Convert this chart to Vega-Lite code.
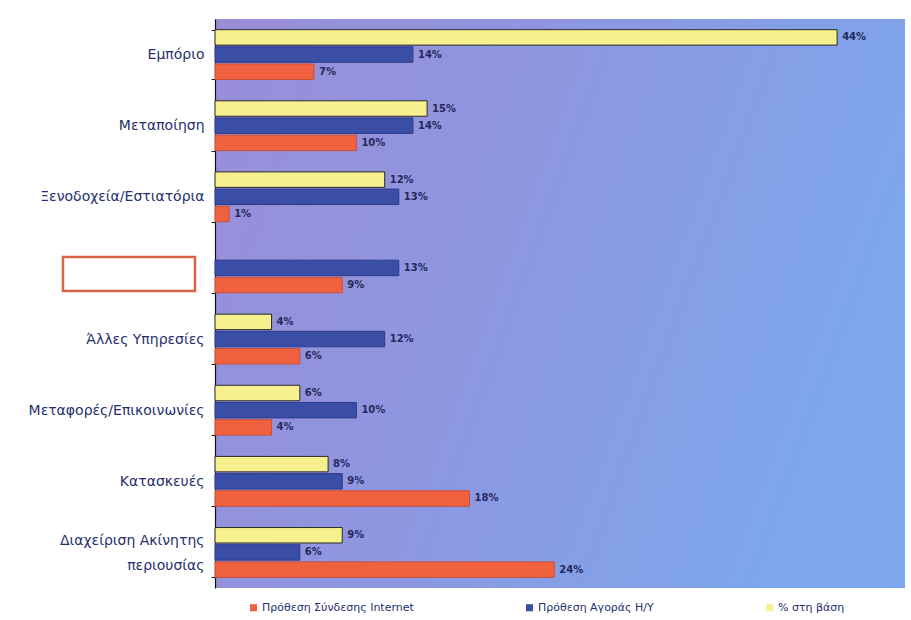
{
  "$schema": "https://vega.github.io/schema/vega-lite/v6.json",
  "autosize": {"type": "none"},
  "width": 690,
  "height": 569,
  "padding": {"left": 215, "top": 19, "right": 6, "bottom": 32},
  "background": "#ffffff",
  "view": {
    "fill": {
      "gradient": "linear",
      "x1": 0, "y1": 0, "x2": 1, "y2": 0.3,
      "stops": [
        {"offset": 0, "color": "#9a8dd8"},
        {"offset": 0.45, "color": "#8e96df"},
        {"offset": 1, "color": "#7ea6ec"}
      ]
    },
    "stroke": null
  },
  "config": {
    "font": "DejaVu Sans",
    "axis": {"labelFont": "DejaVu Sans"}
  },
  "data": {
    "values": [
      {"cat": "Εμπόριο", "series": "% στη βάση", "value": 0.44},
      {"cat": "Εμπόριο", "series": "Πρόθεση Αγοράς Η/Υ", "value": 0.14},
      {"cat": "Εμπόριο", "series": "Πρόθεση Σύνδεσης Internet", "value": 0.07},
      {"cat": "Μεταποίηση", "series": "% στη βάση", "value": 0.15},
      {"cat": "Μεταποίηση", "series": "Πρόθεση Αγοράς Η/Υ", "value": 0.14},
      {"cat": "Μεταποίηση", "series": "Πρόθεση Σύνδεσης Internet", "value": 0.10},
      {"cat": "Ξενοδοχεία/Εστιατόρια", "series": "% στη βάση", "value": 0.12},
      {"cat": "Ξενοδοχεία/Εστιατόρια", "series": "Πρόθεση Αγοράς Η/Υ", "value": 0.13},
      {"cat": "Ξενοδοχεία/Εστιατόρια", "series": "Πρόθεση Σύνδεσης Internet", "value": 0.01},
      {"cat": " ", "series": "Πρόθεση Αγοράς Η/Υ", "value": 0.13},
      {"cat": " ", "series": "Πρόθεση Σύνδεσης Internet", "value": 0.09},
      {"cat": "Άλλες Υπηρεσίες", "series": "% στη βάση", "value": 0.04},
      {"cat": "Άλλες Υπηρεσίες", "series": "Πρόθεση Αγοράς Η/Υ", "value": 0.12},
      {"cat": "Άλλες Υπηρεσίες", "series": "Πρόθεση Σύνδεσης Internet", "value": 0.06},
      {"cat": "Μεταφορές/Επικοινωνίες", "series": "% στη βάση", "value": 0.06},
      {"cat": "Μεταφορές/Επικοινωνίες", "series": "Πρόθεση Αγοράς Η/Υ", "value": 0.10},
      {"cat": "Μεταφορές/Επικοινωνίες", "series": "Πρόθεση Σύνδεσης Internet", "value": 0.04},
      {"cat": "Κατασκευές", "series": "% στη βάση", "value": 0.08},
      {"cat": "Κατασκευές", "series": "Πρόθεση Αγοράς Η/Υ", "value": 0.09},
      {"cat": "Κατασκευές", "series": "Πρόθεση Σύνδεσης Internet", "value": 0.18},
      {"cat": "Διαχείριση Ακίνητης|περιουσίας", "series": "% στη βάση", "value": 0.09},
      {"cat": "Διαχείριση Ακίνητης|περιουσίας", "series": "Πρόθεση Αγοράς Η/Υ", "value": 0.06},
      {"cat": "Διαχείριση Ακίνητης|περιουσίας", "series": "Πρόθεση Σύνδεσης Internet", "value": 0.24}
    ]
  },
  "encoding": {
    "y": {
      "field": "cat",
      "type": "nominal",
      "sort": ["Εμπόριο", "Μεταποίηση", "Ξενοδοχεία/Εστιατόρια", " ", "Άλλες Υπηρεσίες", "Μεταφορές/Επικοινωνίες", "Κατασκευές", "Διαχείριση Ακίνητης|περιουσίας"],
      "scale": {"paddingInner": 0.3, "paddingOuter": 0.15},
      "axis": {
        "title": null,
        "domainColor": "#111111",
        "domainWidth": 1.2,
        "tickColor": "#222222",
        "tickSize": 4,
        "tickBand": "extent",
        "labelFontSize": 14,
        "labelColor": "#26306e",
        "labelPadding": 7,
        "labelLimit": 260,
        "labelBaseline": "middle",
        "labelLineHeight": 25,
        "labelOffset": {
          "condition": {"test": "isValid(datum.value) && indexof(datum.value, '|') >= 0", "value": -12},
          "value": 0
        },
        "labelExpr": "isValid(datum.value) ? split(datum.value, '|') : ''"
      }
    },
    "yOffset": {
      "field": "series",
      "type": "nominal",
      "sort": ["% στη βάση", "Πρόθεση Αγοράς Η/Υ", "Πρόθεση Σύνδεσης Internet"],
      "scale": {"paddingInner": 0.1}
    },
    "x": {
      "field": "value",
      "type": "quantitative",
      "scale": {"domain": [0, 0.488], "nice": false},
      "axis": null
    }
  },
  "layer": [
    {
      "mark": {"type": "bar", "strokeWidth": 1},
      "encoding": {
        "color": {
          "field": "series",
          "type": "nominal",
          "sort": ["Πρόθεση Σύνδεσης Internet", "Πρόθεση Αγοράς Η/Υ", "% στη βάση"],
          "scale": {
            "domain": ["Πρόθεση Σύνδεσης Internet", "Πρόθεση Αγοράς Η/Υ", "% στη βάση"],
            "range": ["#f0623f", "#3a4ea6", "#f6f08e"]
          },
          "legend": {
            "title": null,
            "orient": "none",
            "legendX": 33,
            "legendY": 583,
            "direction": "horizontal",
            "columnPadding": 110,
            "symbolType": "square",
            "symbolSize": 50,
            "symbolStrokeWidth": 0,
            "labelFontSize": 11,
            "labelColor": "#26306e",
            "labelLimit": 300,
            "labelOffset": 3
          }
        },
        "stroke": {
          "field": "series",
          "type": "nominal",
          "scale": {
            "domain": ["Πρόθεση Σύνδεσης Internet", "Πρόθεση Αγοράς Η/Υ", "% στη βάση"],
            "range": ["#c8503a", "#2e3c8a", "#2a2a2a"]
          },
          "legend": null
        }
      }
    },
    {
      "mark": {"type": "text", "align": "left", "dx": 5, "fontSize": 10, "fontWeight": "bold", "color": "#25295e"},
      "encoding": {
        "text": {"field": "value", "type": "quantitative", "format": ".0%"}
      }
    },
    {
      "data": {"values": [{"cat": " "}]},
      "mark": {"type": "rect", "fill": "#ffffff", "stroke": "#d9644a", "strokeWidth": 2.5, "height": 34, "yOffset": 6},
      "encoding": {
        "y": {"field": "cat", "type": "nominal"},
        "yOffset": null,
        "x": {"value": -152},
        "x2": {"value": -20}
      }
    }
  ]
}
